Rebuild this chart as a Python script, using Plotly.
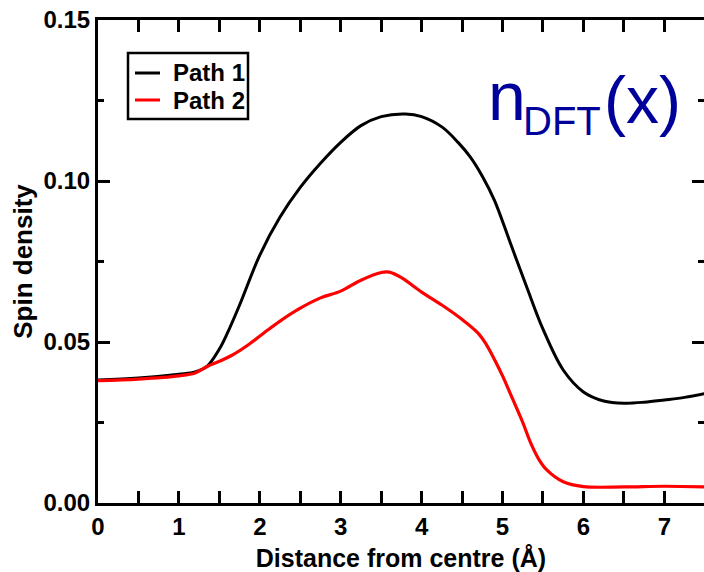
import plotly.graph_objects as go

# Data
x1 = [0.0, 0.5, 1.0, 1.2, 1.35, 1.5, 1.6, 1.75, 2.0, 2.25, 2.5, 2.75, 3.0, 3.25, 3.5, 3.8,
      4.0, 4.25, 4.45, 4.6, 4.75, 4.9, 5.1, 5.3, 5.5, 5.75, 6.0, 6.25, 6.5, 6.75, 7.0,
      7.25, 7.5]
path1 = [0.0382, 0.0388, 0.0400, 0.0407, 0.0425, 0.0478, 0.0528, 0.0615, 0.0770, 0.0888,
         0.0980, 0.1055, 0.1120, 0.1172, 0.1200, 0.1208, 0.1200, 0.1168, 0.1120, 0.1075,
         0.1015, 0.0940, 0.0805, 0.0670, 0.0540, 0.0413, 0.0345, 0.0317, 0.0310, 0.0313,
         0.0320, 0.0328, 0.0340]

x2 = [0.0, 0.5, 1.0, 1.2, 1.35, 1.5, 1.65, 1.85, 2.05, 2.25, 2.5, 2.75, 3.0, 3.25, 3.5,
      3.6, 3.75, 4.0, 4.25, 4.5, 4.7, 4.8, 4.9, 5.0, 5.13, 5.25, 5.35, 5.45, 5.55, 5.75,
      6.0, 6.5, 7.0, 7.5]
path2 = [0.0380, 0.0385, 0.0395, 0.0404, 0.0424, 0.0440, 0.0458, 0.0490, 0.0528, 0.0565,
         0.0605, 0.0637, 0.0658, 0.0692, 0.0716, 0.0717, 0.0700, 0.0655, 0.0615, 0.0570,
         0.0527, 0.0492, 0.0446, 0.0395, 0.0320, 0.0250, 0.0185, 0.0135, 0.0102, 0.0066,
         0.0051, 0.0050, 0.0052, 0.0050]

names = ["Path 1", "Path 2"]
colors = ["black", "#ff0000"]

x_ticks = [0, 1, 2, 3, 4, 5, 6, 7]
y_ticks = [0.0, 0.05, 0.10, 0.15]
y_tick_labels = ["0.00", "0.05", "0.10", "0.15"]

FONT = "Liberation Sans, Arial, sans-serif"
W, H = 704, 572
L, T, B, R = 98, 20, 69, 0
pw, ph = W - L - R, H - T - B

def px2paper(px, py):
    return (px - L) / pw, (H - B - py) / ph

fig = go.Figure()
fig.add_trace(go.Scatter(x=x1, y=path1, mode="lines", name=names[0], showlegend=False,
                         line=dict(color=colors[0], width=3, shape="spline", smoothing=1.0)))
fig.add_trace(go.Scatter(x=x2, y=path2, mode="lines", name=names[1], showlegend=False,
                         line=dict(color=colors[1], width=3.2, shape="spline", smoothing=1.0)))

tickfont = dict(family=FONT, size=24, color="black", weight="bold")

fig.update_layout(
    width=W, height=H,
    margin=dict(l=L, r=R, t=T, b=B, pad=0),
    plot_bgcolor="white", paper_bgcolor="white",
    showlegend=False,
    xaxis=dict(range=[0, 7.49], tickvals=x_ticks, ticktext=[str(v) for v in x_ticks],
               ticks="inside", ticklen=12, tickwidth=3, tickcolor="black",
               showline=True, linewidth=3, linecolor="black", mirror="allticks",
               showgrid=False, zeroline=False, tickfont=tickfont,
               minor=dict(dtick=0.5, tick0=0, ticks="inside", ticklen=6, tickwidth=3,
                          tickcolor="black", showgrid=False),
               title=dict(text="Distance from centre (Å)", standoff=12,
                          font=dict(family=FONT, size=25, color="black", weight="bold"))),
    yaxis=dict(range=[0, 0.15], tickvals=y_ticks, ticktext=y_tick_labels,
               ticks="inside", ticklen=12, tickwidth=3, tickcolor="black",
               showline=True, linewidth=3, linecolor="black", mirror=False,
               showgrid=False, zeroline=False, tickfont=tickfont,
               minor=dict(dtick=0.025, tick0=0, ticks="inside", ticklen=6, tickwidth=3,
                          tickcolor="black", showgrid=False),
               title=dict(text="Spin density", standoff=4,
                          font=dict(family=FONT, size=26, color="black", weight="bold"))),
    yaxis2=dict(range=[0, 0.15], overlaying="y", side="right", anchor="x",
                tickvals=y_ticks, showticklabels=False,
                ticks="inside", ticklen=12, tickwidth=3, tickcolor="black",
                showline=False, showgrid=False, zeroline=False,
                minor=dict(dtick=0.025, tick0=0, ticks="inside", ticklen=6, tickwidth=3,
                           tickcolor="black", showgrid=False)),
)

# invisible trace to activate the right-hand tick axis
fig.add_trace(go.Scatter(x=[0], y=[0], yaxis="y2", mode="lines", showlegend=False,
                         hoverinfo="skip", line=dict(color="rgba(0,0,0,0)")))

# Legend box (drawn manually to match the compact original)
bx0, by0 = px2paper(128, 119)
bx1, by1 = px2paper(248, 53)
fig.add_shape(type="rect", xref="paper", yref="paper", x0=bx0, y0=by0, x1=bx1, y1=by1,
              line=dict(color="black", width=2.5), fillcolor="white", layer="above")
rows = [73, 100]
for name, col, ry in zip(names, colors, rows):
    lx0, ly = px2paper(135, ry)
    lx1, _ = px2paper(160, ry)
    fig.add_shape(type="line", xref="paper", yref="paper", x0=lx0, x1=lx1, y0=ly, y1=ly,
                  line=dict(color=col, width=3), layer="above")
    tx, ty = px2paper(171, ry)
    fig.add_annotation(text=name, x=tx, y=ty, xref="paper", yref="paper", xanchor="left",
                       yanchor="middle", showarrow=False,
                       font=dict(family=FONT, size=24, color="black", weight="bold"))

blue = "#00009a"
ax, ay = px2paper(486, 96)
fig.add_annotation(text="n", x=ax, y=ay, xref="paper", yref="paper", xanchor="left",
                   yanchor="middle", showarrow=False,
                   font=dict(family=FONT, size=68, color=blue))
ax, ay = px2paper(521, 121)
fig.add_annotation(text="DFT", x=ax, y=ay, xref="paper", yref="paper", xanchor="left",
                   yanchor="middle", showarrow=False,
                   font=dict(family=FONT, size=40, color=blue))
ax, ay = px2paper(602, 100)
fig.add_annotation(text="(x)", x=ax, y=ay, xref="paper", yref="paper", xanchor="left",
                   yanchor="middle", showarrow=False,
                   font=dict(family=FONT, size=66, color=blue))

fig.write_html("out.html")
